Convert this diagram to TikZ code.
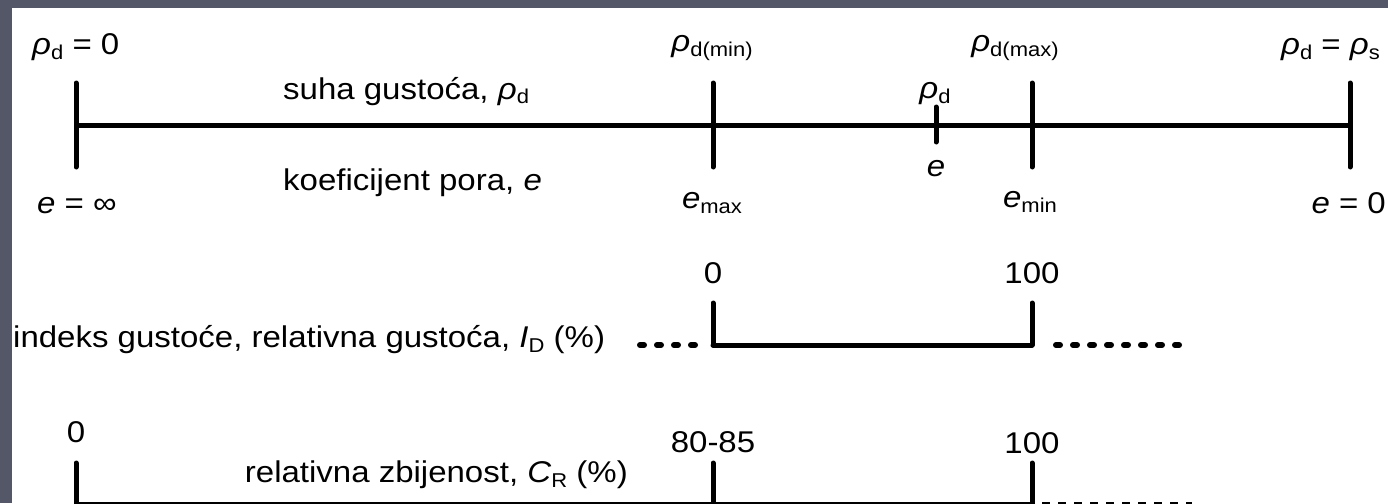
\documentclass[tikz,border=0pt]{standalone}
\usepackage{fontspec}
\setmainfont{Liberation Sans}[FakeStretch=1.1]
\newcommand\sbx[1]{\raisebox{-5pt}{\fontsize{20}{20}\selectfont #1}}
\definecolor{slate}{RGB}{84,87,104}
\begin{document}
\begin{tikzpicture}[x=1pt,y=-1pt,
  lbl/.style={inner sep=0pt,font=\fontsize{30}{34}\selectfont},
  axisline/.style={line width=5pt},
  tickline/.style={line width=5pt,line cap=round},
  dashline/.style={line width=6pt,line cap=round,dash pattern=on 4pt off 13pt},
  thindash/.style={line width=6pt,dash pattern=on 8pt off 8pt}]
\useasboundingbox (0,0) rectangle (1388,503);
\fill[slate] (0,0) rectangle (1388,503);
\fill[white] (12,8) rectangle (1388,503);

% ---- top axis: dry density / void ratio
\coordinate (A0) at (76,125);
\coordinate (A1) at (1350,125);
\coordinate (T0u) at (76,83);   \coordinate (T0d) at (76,167);
\coordinate (T1u) at (713,83);  \coordinate (T1d) at (713,167);
\coordinate (T2u) at (936,107); \coordinate (T2d) at (936,142);
\coordinate (T3u) at (1032,83); \coordinate (T3d) at (1032,167);
\coordinate (T4u) at (1350,83); \coordinate (T4d) at (1350,167);
\draw[axisline] (A0) -- (A1);
\draw[tickline] (T0u) -- (T0d);
\draw[tickline] (T1u) -- (T1d);
\draw[tickline] (T2u) -- (T2d);
\draw[tickline] (T3u) -- (T3d);
\draw[tickline] (T4u) -- (T4d);

\node[lbl,anchor=base west] (rho0) at (32,55) {\textit{ρ}\sbx{d} = 0};
\node[lbl,anchor=base] (rhomin) at (712,52) {\textit{ρ}\sbx{d(min)}};
\node[lbl,anchor=base] (rhomax) at (1015,52) {\textit{ρ}\sbx{d(max)}};
\node[lbl,anchor=base east] (rhos) at (1380,55) {\textit{ρ}\sbx{d} = \textit{ρ}\sbx{s}};
\node[lbl,anchor=base west] (suha) at (283,99) {suha gustoća, \textit{ρ}\sbx{d}};
\node[lbl,anchor=base west] (koef) at (283,190) {koeficijent pora, \textit{e}};
\node[lbl,anchor=base west] (einf) at (37,213) {\textit{e} = ∞};
\node[lbl,anchor=base] (emax) at (712,208) {\textit{e}\sbx{max}};
\node[lbl,anchor=base] (rhod) at (935,98) {\textit{ρ}\sbx{d}};
\node[lbl,anchor=base] (esm) at (936,176) {\textit{e}};
\node[lbl,anchor=base] (emin) at (1030,207) {\textit{e}\sbx{min}};
\node[lbl,anchor=base east] (ezero) at (1386,213) {\textit{e} = 0};

% ---- middle axis: density index
\coordinate (B0) at (713,345);
\coordinate (B1) at (1032,345);
\coordinate (BL0) at (640,345); \coordinate (BL1) at (696,345);
\coordinate (BR0) at (1056,345); \coordinate (BR1) at (1186,345);
\coordinate (U0) at (713,303); \coordinate (U1) at (1032,303);
\draw[axisline,line cap=round] (B0) -- (B1);
\draw[tickline] (U0) -- (B0);
\draw[tickline] (U1) -- (B1);
\draw[dashline] (BL0) -- (BL1);
\draw[dashline] (BR0) -- (BR1);
\node[lbl,anchor=base] (id0) at (713,283) {0};
\node[lbl,anchor=base] (id100) at (1032,283) {100};
\node[lbl,anchor=base west] (idx) at (13,347) {indeks gustoće, relativna gustoća, \textit{I}\sbx{D} (\%)};

% ---- bottom axis: relative compaction
\coordinate (C0) at (76,505);
\coordinate (C1) at (713,505);
\coordinate (C2) at (1032,505);
\coordinate (CR0) at (1042,505); \coordinate (CR1) at (1192,505);
\coordinate (V0) at (76,463); \coordinate (V1) at (713,463); \coordinate (V2) at (1032,463);
\draw[axisline,line width=6pt] (C0) -- (C2);
\draw[tickline] (V0) -- (C0);
\draw[tickline] (V1) -- (C1);
\draw[tickline] (V2) -- (C2);
\draw[thindash] (CR0) -- (CR1);
\node[lbl,anchor=base] (cr0) at (76,442) {0};
\node[lbl,anchor=base] (cr80) at (713,452) {80-85};
\node[lbl,anchor=base] (cr100) at (1032,453) {100};
\node[lbl,anchor=base east] (crl) at (628,482) {relativna zbijenost, \textit{C}\sbx{R} (\%)};
\end{tikzpicture}
\end{document}
